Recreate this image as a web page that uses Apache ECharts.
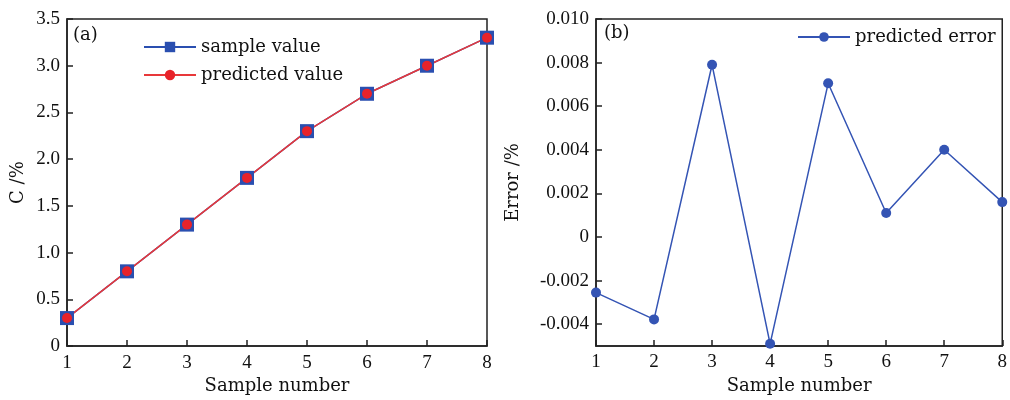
<!DOCTYPE html>
<html><head><meta charset="utf-8">
<script src="https://cdn.jsdelivr.net/npm/echarts@6/dist/echarts.min.js"></script>
<style>html,body{margin:0;padding:0;background:#fff}#c{width:1010px;height:400px}</style>
</head><body><div id="c"></div>
<script>
const samples = [1, 2, 3, 4, 5, 6, 7, 8];
const sampleValue = [0.3, 0.8, 1.3, 1.8, 2.3, 2.7, 3.0, 3.3];
const predictedValue = [0.3, 0.8, 1.3, 1.8, 2.3, 2.7, 3.0, 3.3];
const predictedError = [-0.00255, -0.00378, 0.0079, -0.0049, 0.00705, 0.0011, 0.0040, 0.0016];
const leftYTicks = [0, 0.5, 1.0, 1.5, 2.0, 2.5, 3.0, 3.5];
const rightYTicks = [-0.004, -0.002, 0, 0.002, 0.004, 0.006, 0.008, 0.010];

const FONT = 'DejaVu Serif';
const NUMFONT = 'Liberation Serif';
const TXT = '#111';
const pair = a => a.map((v, i) => [samples[i], v]);

const chart = echarts.init(document.getElementById('c'));
const xAxisCommon = {
  type: 'value', min: 1, max: 8, interval: 1,
  name: 'Sample number', nameLocation: 'middle', nameGap: 30,
  nameTextStyle: { fontFamily: FONT, fontSize: 18, color: TXT },
  axisLine: { onZero: false, lineStyle: { color: '#222', width: 1.5 } },
  axisTick: { inside: true, length: 6, lineStyle: { color: '#222', width: 1.5 } },
  axisLabel: { fontFamily: NUMFONT, fontSize: 19, color: TXT, margin: 7 },
  splitLine: { show: false }
};
chart.setOption({
  animation: false,
  grid: [
    { left: 67, right: 523, top: 19, bottom: 53, show: true, borderColor: '#222', borderWidth: 1.5 },
    { left: 596, right: 5, top: 19, bottom: 54, show: true, borderColor: '#222', borderWidth: 1.5 }
  ],
  xAxis: [
    Object.assign({ gridIndex: 0 }, xAxisCommon),
    Object.assign({ gridIndex: 1 }, xAxisCommon)
  ],
  yAxis: [
    { gridIndex: 0, type: 'value', min: 0, max: 3.5, interval: 0.5,
      name: 'C /%', nameLocation: 'middle', nameGap: 40,
      nameTextStyle: { fontFamily: FONT, fontSize: 18, color: TXT },
      axisLine: { show: true, onZero: false, lineStyle: { color: '#222', width: 1.5 } },
      axisTick: { show: true, inside: true, length: 6, lineStyle: { color: '#222', width: 1.5 } },
      axisLabel: { fontFamily: NUMFONT, fontSize: 19, color: TXT, margin: 7,
        formatter: v => v === 0 ? '0' : v.toFixed(1) },
      splitLine: { show: false } },
    { gridIndex: 1, type: 'value', min: -0.005, max: 0.010,
      name: 'Error /%', nameLocation: 'middle', nameGap: 74,
      nameTextStyle: { fontFamily: FONT, fontSize: 18, color: TXT },
      axisLine: { show: true, onZero: false, lineStyle: { color: '#222', width: 1.5 } },
      axisTick: { show: true, inside: true, length: 6, customValues: rightYTicks, lineStyle: { color: '#222', width: 1.5 } },
      axisLabel: { fontFamily: NUMFONT, fontSize: 19, color: TXT, margin: 7, customValues: rightYTicks,
        formatter: v => Math.abs(v) < 1e-12 ? '0' : v.toFixed(3) },
      splitLine: { show: false } }
  ],
  legend: [
    { data: ['sample value', 'predicted value'], orient: 'vertical', left: 138, top: 33,
      itemWidth: 52, itemHeight: 13, itemGap: 10,
      textStyle: { fontFamily: FONT, fontSize: 18, color: TXT } },
    { data: ['predicted error'], left: 792, top: 23, itemWidth: 52, itemHeight: 12,
      textStyle: { fontFamily: FONT, fontSize: 18, color: TXT } }
  ],
  graphic: [
    { type: 'text', left: 73, top: 26, style: { text: '(a)', fontFamily: FONT, fontSize: 18, fill: TXT } },
    { type: 'text', left: 604, top: 24, style: { text: '(b)', fontFamily: FONT, fontSize: 18, fill: TXT } }
  ],
  series: [
    { name: 'sample value', type: 'line', xAxisIndex: 0, yAxisIndex: 0, data: pair(sampleValue),
      symbol: 'rect', symbolSize: 14, itemStyle: { color: '#2a4fb0' }, lineStyle: { color: '#2a4fb0', width: 1.5 } },
    { name: 'predicted value', type: 'line', xAxisIndex: 0, yAxisIndex: 0, data: pair(predictedValue),
      symbol: 'circle', symbolSize: 10, itemStyle: { color: '#e8232a' }, lineStyle: { color: '#e8383a', width: 1.5 } },
    { name: 'predicted error', type: 'line', xAxisIndex: 1, yAxisIndex: 1, data: pair(predictedError),
      symbol: 'circle', symbolSize: 10, itemStyle: { color: '#3454b4' }, lineStyle: { color: '#3454b4', width: 1.5 } }
  ]
});
</script></body></html>
